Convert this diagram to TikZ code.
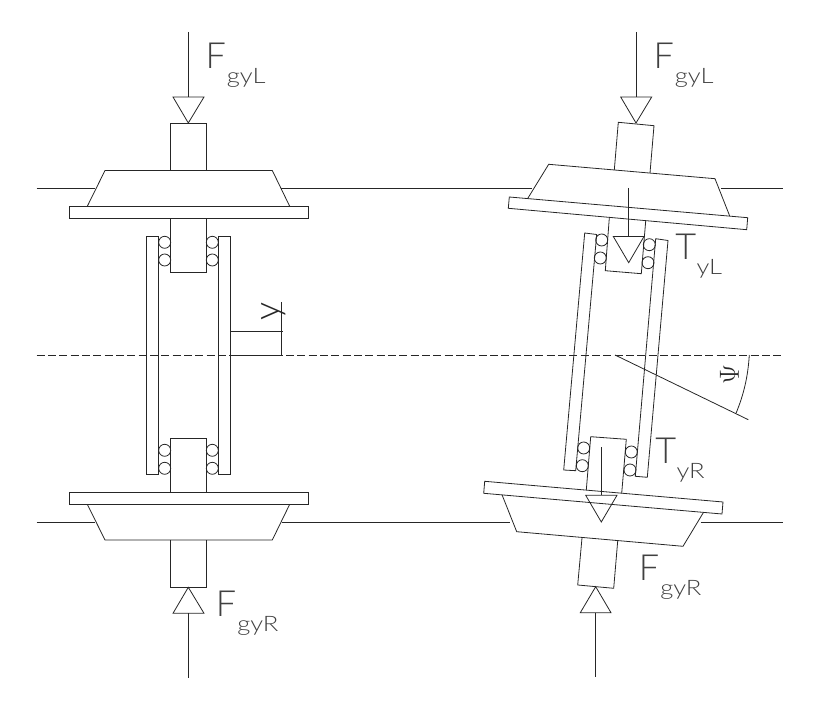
\documentclass[tikz,border=0pt]{standalone}
\usepackage{fontspec}
\setsansfont{Lato Light}
\newfontfamily\subfont[FakeStretch=1.2]{Lato Light}
\newcommand{\loadlabel}[2]{\makebox[16pt][l]{\fontsize{27}{27}\selectfont #1}\raisebox{-11.25pt}{\fontsize{16}{16}\subfont #2}}
\tikzset{
  wire/.style={line width=0.6pt,black!85},
  axis/.style={wire,dash pattern={on 6pt off 2.5pt}},
  load/.style={anchor=base west,inner sep=0pt,black!75,font=\sffamily},
}
\begin{document}
\begin{tikzpicture}[x=0.75pt,y=0.75pt,yscale=-1,xscale=1]
\useasboundingbox (0,0) rectangle (822,712);

%Rails
\draw [wire] (36.7,188.3) -- (95,188.3) (281,188.3) -- (532,188.3) (721,188.3) -- (783,188.3) ;
\draw [wire] (36.7,522) -- (95,522) (281.5,522) -- (510,522) (700.7,522) -- (783,522) ;
%Center line
\draw [axis] (36.7,355) -- (783,355) ;

%Left wheelset, top
\draw [wire] (188.3,32) -- (188.3,97) ;
\draw [wire] (173,97) -- (204,97) -- (188.3,123) -- cycle ;
\draw [wire] (170.3,170.5) -- (170.3,123) -- (206.3,123) -- (206.3,170.5) ;
\draw [wire] (87.3,206.3) -- (105,170.5) -- (272.3,170.5) -- (289.7,206.3) ;
\draw [wire] (69.3,206.3) rectangle (308,218.5) ;
\draw [wire] (170.3,218.5) -- (170.3,272) -- (206.3,272) -- (206.3,218.5) ;
%Left wheelset, bottom
\draw [wire] (170.3,492) -- (170.3,438.3) -- (206.3,438.3) -- (206.3,492) ;
\draw [wire] (69.3,492) rectangle (308,504.3) ;
\draw [wire] (87.3,504.3) -- (105,540) -- (272.3,540) -- (289.7,504.3) ;
\draw [wire] (170.3,540) -- (170.3,587.3) -- (206.3,587.3) -- (206.3,540) ;
\draw [wire] (173,613.3) -- (204,613.3) -- (188.3,587.3) -- cycle ;
\draw [wire] (188.3,613.3) -- (188.3,678.3) ;
%Left wheelset, sleeves and bearings
\draw [wire] (146.3,236) rectangle (158.7,474.3) ;
\draw [wire] (218.3,236) rectangle (230.3,474.3) ;
\foreach \bx in {164.7,212.3} {
  \foreach \by in {242.3,260,450.3,468.3} {
    \draw [wire] (\bx,\by) circle [radius=6] ;
  }
}
%Offset y
\draw [wire] (230.3,331.3) -- (283,331.3) ;
\draw [wire] (281.3,302) -- (281.3,355) -- (230.3,355) ;
\node (offsety) [black!85,font=\sffamily\fontsize{27}{27}\selectfont,inner sep=0pt,rotate=90] at (274,311) {y};

%Right wheelset, top
\draw [wire] (636,32) -- (636,97) ;
\draw [wire] (620.7,97) -- (651.7,97) -- (636,123) -- cycle ;
\draw [wire] (614.3,170) -- (618.3,122.3) -- (654,125.7) -- (650,173) ;
\draw [wire] (528,198) -- (548.7,164.3) -- (715,178.7) -- (729.7,216) ;
\draw [wire] (509.3,197) -- (747.7,217.7) -- (746.7,229.7) -- (508.3,208.3) -- cycle ;
\draw [wire] (609.3,218) -- (605.3,270.7) -- (641.3,273.7) -- (645.7,221) ;
\draw [wire] (628.7,188) -- (628.7,236.5) ;
\draw [wire] (613.3,236.5) -- (644,236.5) -- (628.7,262.7) -- cycle ;
%Right wheelset, bottom
\draw [wire] (586.3,490) -- (590.7,436.7) -- (626.3,439.3) -- (621.7,493.3) ;
\draw [wire] (601.3,447.3) -- (601.3,495.3) ;
\draw [wire] (585.7,495.3) -- (617,495.3) -- (601.3,522) -- cycle ;
\draw [wire] (484.7,481.3) -- (723,502) -- (722,514) -- (483.7,493.3) -- cycle ;
\draw [wire] (502,494.7) -- (516.7,531.7) -- (683,546.3) -- (703.3,512.7) ;
\draw [wire] (582,538) -- (577.7,585) -- (613.7,588.3) -- (617.7,541) ;
\draw [wire] (580.3,612.7) -- (611,612.7) -- (595.7,586.7) -- cycle ;
\draw [wire] (595.7,612.7) -- (595.7,677.3) ;
%Right wheelset, sleeves and bearings
\draw [wire] (584.7,233) -- (596.7,234.5) -- (575.7,470.7) -- (563.7,470) -- cycle ;
\draw [wire] (655.7,238.7) -- (668,240.5) -- (647.3,477.3) -- (635.3,476.3) -- cycle ;
\foreach \bx/\by in {601.7/240,600.3/258,649.3/244.7,648/262.7,583.7/448,582.3/465.7,631.3/452,630/470} {
  \draw [wire] (\bx,\by) circle [radius=6] ;
}
%Yaw angle
\draw [wire] (615,355) -- (748.3,419.7) ;
\draw [wire] (749.3,355) .. controls (748,376) and (744,394) .. (736,413.3) ;
\node (yawangle) [black!85,inner sep=0pt,rotate=90,font=\fontsize{20}{20}\selectfont] at (729.5,375) {$\Psi$};

% Text Node
\node (forceLa) [load] at (205.3,69) {\loadlabel{F}{gyL}};
\node (forceRa) [load] at (215.7,616.7) {\loadlabel{F}{gyR}};
\node (forceLb) [load] at (653.3,69) {\loadlabel{F}{gyL}};
\node (forceRb) [load] at (638.7,580.7) {\loadlabel{F}{gyR}};
\node (torqueL) [load] at (675,260) {\loadlabel{T}{yL}};
\node (torqueR) [load] at (655,464) {\loadlabel{T}{yR}};

\end{tikzpicture}
\end{document}
